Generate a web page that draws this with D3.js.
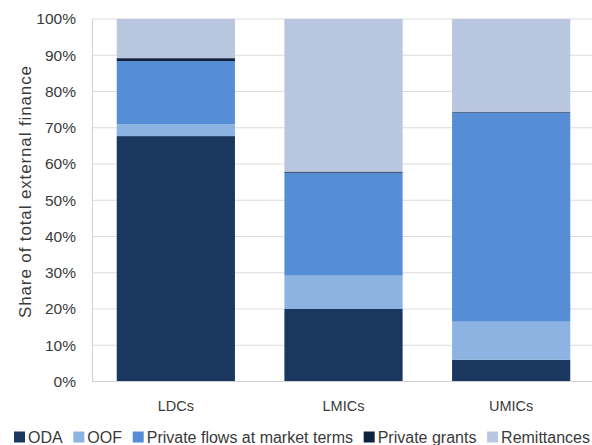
<!DOCTYPE html>
<html>
<head>
<meta charset="utf-8">
<script src="https://cdn.jsdelivr.net/npm/d3@7"></script>
<style>
  html, body { margin: 0; padding: 0; background: #fff; }
  svg { display: block; font-family: "Liberation Sans", Arial, sans-serif; }
</style>
</head>
<body>
<svg id="chart" width="592" height="445"></svg>
<script>
// Share of total external finance by country income group (%)
const categories = ["LDCs", "LMICs", "UMICs"];
const seriesNames = ["ODA", "OOF", "Private flows at market terms", "Private grants", "Remittances"];
const oda         = [67.7, 20.0, 6.0];
const oof         = [3.3, 9.2, 10.5];
const privateFlows = [17.4, 28.4, 57.7];
const privateGrants = [0.8, 0.3, 0.2];
const remittances = [10.8, 42.1, 25.6];
const yTicks = [0, 10, 20, 30, 40, 50, 60, 70, 80, 90, 100];
const colors = ["#1a3760", "#8db3e2", "#558ed5", "#0f213f", "#b9c6df"];

const rows = categories.map((c, i) => ({
  cat: c,
  "ODA": oda[i],
  "OOF": oof[i],
  "Private flows at market terms": privateFlows[i],
  "Private grants": privateGrants[i],
  "Remittances": remittances[i]
}));

const svg = d3.select("#chart");
const margin = { left: 92, right: -3, top: 19, bottom: 63.5 };
const W = 592, H = 445;
const textColor = "#3a3a3a";

const x = d3.scaleBand().domain(categories)
  .range([margin.left, W - margin.right]).paddingInner(0.295).paddingOuter(0.1475);
const y = d3.scaleLinear().domain([0, 100]).range([H - margin.bottom, margin.top]);
const color = d3.scaleOrdinal().domain(seriesNames).range(colors);

// gridlines
svg.append("g").selectAll("line").data(yTicks).join("line")
  .attr("x1", margin.left).attr("x2", W)
  .attr("y1", d => y(d)).attr("y2", d => y(d))
  .attr("stroke", "#dcdcdc").attr("stroke-width", 1);

// stacked bars
const stacked = d3.stack().keys(seriesNames)(rows);
svg.append("g").selectAll("g").data(stacked).join("g")
  .attr("fill", d => color(d.key))
  .selectAll("rect").data(d => d).join("rect")
  .attr("x", d => x(d.data.cat))
  .attr("width", x.bandwidth())
  .attr("y", d => y(d[1]))
  .attr("height", d => y(d[0]) - y(d[1]));

// y axis
const yAxis = svg.append("g").attr("transform", `translate(${margin.left},0)`)
  .call(d3.axisLeft(y).tickValues(yTicks).tickFormat(d => d + "%").tickSize(0).tickPadding(16));
yAxis.select(".domain").attr("stroke", "#d0d0d0");
yAxis.selectAll("text").attr("font-size", 15.5).attr("fill", textColor);

// x axis
const xAxis = svg.append("g").attr("transform", `translate(0,${y(0)})`)
  .call(d3.axisBottom(x).tickSize(0).tickPadding(19));
xAxis.select(".domain").attr("stroke", "#d0d0d0").attr("d", `M${margin.left},0H${W}`);
xAxis.selectAll("text").attr("font-size", 14.5).attr("fill", textColor);

// y axis title
svg.append("text")
  .attr("transform", "translate(25,192) rotate(-90)")
  .attr("text-anchor", "middle")
  .attr("dy", "0.35em")
  .attr("font-size", 17).attr("fill", textColor)
  .attr("textLength", 252).attr("lengthAdjust", "spacing")
  .text("Share of total external finance");

// legend
const legend = svg.append("g").attr("transform", "translate(0,437)");
const items = legend.selectAll("g").data(seriesNames).join("g");
items.append("rect").attr("width", 11).attr("height", 11).attr("y", -5.5)
  .attr("fill", d => color(d));
items.append("text").attr("x", 14).attr("dy", "0.35em")
  .attr("font-size", 16).attr("fill", textColor).text(d => d);
const widths = [];
items.each(function () { widths.push(14 + d3.select(this).select("text").node().getComputedTextLength()); });
const startX = 14, endX = 590;
const gap = (endX - startX - d3.sum(widths)) / (widths.length - 1);
let cx = startX;
items.attr("transform", (d, i) => { const t = `translate(${cx},0)`; cx += widths[i] + gap; return t; });
</script>
</body>
</html>
